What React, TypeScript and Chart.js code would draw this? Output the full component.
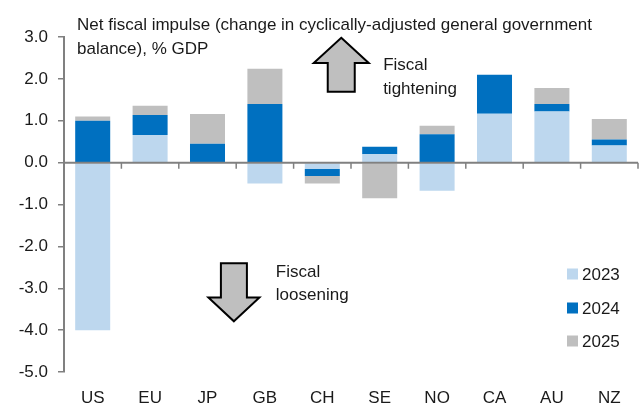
import React, { useEffect, useRef } from "react";
import { Chart, registerables } from "chart.js";

Chart.register(...registerables);

const categories = ["US", "EU", "JP", "GB", "CH", "SE", "NO", "CA", "AU", "NZ"];
const series2023 = [-4.0, 0.66, 0, -0.5, -0.15, 0.2, -0.67, 1.17, 1.22, 0.41];
const series2024 = [1.0, 0.48, 0.45, 1.4, -0.17, 0.18, 0.68, 0.93, 0.18, 0.14];
const series2025 = [0.1, 0.22, 0.71, 0.84, -0.18, -0.85, 0.2, 0, 0.38, 0.49];
const seriesLabels = ["2023", "2024", "2025"];
const seriesColors = ["#BDD7EE", "#0070C0", "#BFBFBF"];
const yMin = -5;
const yMax = 3;
const titleLines = [
  "Net fiscal impulse (change in cyclically-adjusted general government",
  "balance), % GDP",
];
const upLabel = ["Fiscal", "tightening"];
const downLabel = ["Fiscal", "loosening"];

const FONT = "'Liberation Sans', Arial, sans-serif";
const AXIS = "#808080";
const TEXT = "#1a1a1a";

function drawArrow(ctx: CanvasRenderingContext2D, cx: number, tipY: number, headBaseY: number, endY: number, headHalf: number, shaftHalf: number) {
  ctx.beginPath();
  ctx.moveTo(cx, tipY);
  ctx.lineTo(cx + headHalf, headBaseY);
  ctx.lineTo(cx + shaftHalf, headBaseY);
  ctx.lineTo(cx + shaftHalf, endY);
  ctx.lineTo(cx - shaftHalf, endY);
  ctx.lineTo(cx - shaftHalf, headBaseY);
  ctx.lineTo(cx - headHalf, headBaseY);
  ctx.closePath();
  ctx.fillStyle = "#BFBFBF";
  ctx.fill();
  ctx.strokeStyle = "#000";
  ctx.lineWidth = 2;
  ctx.lineJoin = "miter";
  ctx.stroke();
}

const decorPlugin = {
  id: "decor",
  afterDatasetsDraw(chart: any) {
    const { ctx, chartArea, scales } = chart;
    const x = scales.x;
    const y = scales.y;
    const y0 = y.getPixelForValue(0);
    ctx.save();
    // zero line
    ctx.strokeStyle = AXIS;
    ctx.lineWidth = 2;
    ctx.beginPath();
    ctx.moveTo(chartArea.left, y0);
    ctx.lineTo(chartArea.right, y0);
    ctx.stroke();
    ctx.lineWidth = 1.5;
    ctx.beginPath();
    for (let i = 0; i < categories.length; i++) {
      const px = x.getPixelForValue(i + 0.5);
      ctx.moveTo(px, y0);
      ctx.lineTo(px, y0 + 6);
    }
    ctx.stroke();

    // arrows
    drawArrow(ctx, x.getPixelForValue(4.33), y.getPixelForValue(2.98), y.getPixelForValue(2.38), y.getPixelForValue(1.69), 27.5, 13.5);
    drawArrow(ctx, x.getPixelForValue(2.46), y.getPixelForValue(-3.79), y.getPixelForValue(-3.22), y.getPixelForValue(-2.4), 25.5, 13);

    ctx.fillStyle = TEXT;
    ctx.font = `17px ${FONT}`;
    ctx.textAlign = "left";
    ctx.textBaseline = "alphabetic";
    const ux = x.getPixelForValue(5.06);
    ctx.fillText(upLabel[0], ux, y.getPixelForValue(2.21));
    ctx.fillText(upLabel[1], ux, y.getPixelForValue(1.64));
    const dx = x.getPixelForValue(3.19);
    ctx.fillText(downLabel[0], dx, y.getPixelForValue(-2.74));
    ctx.fillText(downLabel[1], dx, y.getPixelForValue(-3.29));

    // title
    ctx.fillText(titleLines[0], chartArea.left + 13, 29.5);
    ctx.fillText(titleLines[1], chartArea.left + 13, 53.5);

    // legend
    const lx = chartArea.right - 71;
    const ly = [274, 308, 341];
    ctx.textBaseline = "middle";
    for (let i = 0; i < seriesLabels.length; i++) {
      ctx.fillStyle = seriesColors[i];
      ctx.fillRect(lx, ly[i] - 5.5, 11, 11);
      ctx.fillStyle = TEXT;
      ctx.fillText(seriesLabels[i], lx + 15, ly[i] + 1);
    }
    ctx.restore();
  },
};

export default function App() {
  const canvasRef = useRef<HTMLCanvasElement | null>(null);

  useEffect(() => {
    if (!canvasRef.current) return;
    const data = [series2023, series2024, series2025];
    const chart = new Chart(canvasRef.current, {
      type: "bar",
      data: {
        labels: categories,
        datasets: seriesLabels.map((label, i) => ({
          label,
          data: data[i],
          backgroundColor: seriesColors[i],
          borderWidth: 0,
          barPercentage: 0.61,
          categoryPercentage: 1,
        })),
      },
      options: {
        animation: false,
        responsive: true,
        maintainAspectRatio: false,
        devicePixelRatio: 1,
        layout: { padding: { top: 37, right: 4, left: 0, bottom: 0 } },
        plugins: {
          legend: { display: false },
          title: { display: false },
          tooltip: { enabled: false },
        },
        scales: {
          x: {
            stacked: true,
            grid: { display: false },
            border: { display: false },
            ticks: {
              color: TEXT,
              font: { family: FONT, size: 17 },
              padding: 8,
              maxRotation: 0,
            },
            afterFit: (s: any) => {
              s.height = 34;
            },
          },
          y: {
            stacked: true,
            min: yMin,
            max: yMax,
            ticks: {
              stepSize: 1,
              color: TEXT,
              font: { family: FONT, size: 17 },
              padding: 10,
              callback: (v: any) => Number(v).toFixed(1),
            },
            grid: {
              display: true,
              drawOnChartArea: false,
              drawTicks: true,
              tickLength: 6,
              color: AXIS,
              lineWidth: 1.5,
            },
            border: { display: true, color: AXIS, width: 2 },
            afterFit: (s: any) => {
              s.width = 64;
            },
          },
        },
      },
      plugins: [decorPlugin],
    });
    return () => chart.destroy();
  }, []);

  return (
    <div style={{ position: "fixed", left: 0, top: 0, width: 642, height: 406, background: "#fff" }}>
      <canvas ref={canvasRef} />
    </div>
  );
}
